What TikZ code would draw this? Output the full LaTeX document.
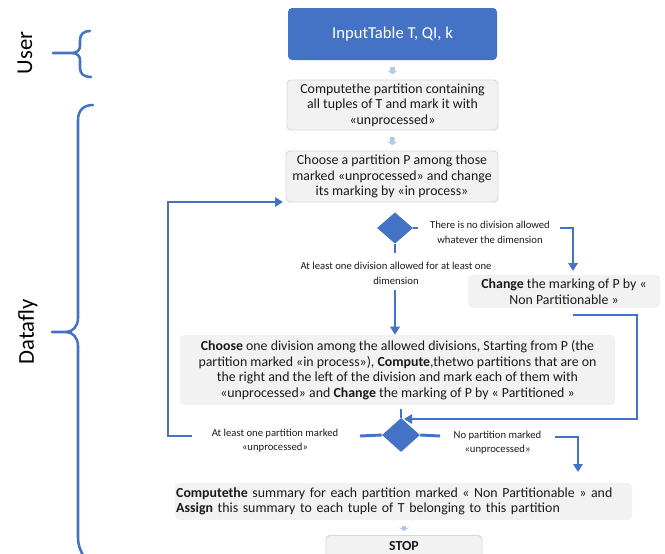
\documentclass[tikz,border=0pt]{standalone}
\usepackage{fontspec}
\setmainfont{Carlito}
\usetikzlibrary{arrows.meta,shapes.geometric}
\definecolor{accent}{HTML}{4472C4}
\definecolor{panel}{HTML}{F2F2F2}
\definecolor{rim}{HTML}{D3D9E3}
\definecolor{pale}{HTML}{B4C7E7}
\definecolor{ink}{HTML}{1A1A1A}

\begin{document}
\begin{tikzpicture}[x=0.75pt,y=-0.75pt,
  box/.style={fill=panel, rounded corners=3pt, inner sep=0pt, text=ink,
    font=\fontsize{10.4}{11.6}\selectfont, align=center},
  framed/.style={box, draw=rim, line width=0.7pt},
  decide/.style={diamond, fill=accent, inner sep=0pt},
  note/.style={font=\fontsize{8}{11}\selectfont, text=ink, align=center, inner sep=0pt},
  wire/.style={draw=accent, line width=2.2pt},
  pointer/.style={wire, -{Triangle[width=7pt,length=6pt]}},
  gapper/.style={draw=pale, line width=3.5pt, -{Triangle[width=7pt,length=2.5pt]}},
  curly/.style={draw=accent, line width=1.9pt, line cap=round},
  side/.style={font=\fontsize{17}{19}\selectfont, rotate=90, text=black}
]
\useasboundingbox (0,0) rectangle (665,554);
\clip (0,0) rectangle (665,554);

% ---- side labels with braces ----
\node[side] (user) at (25,53) {User};
\node[side] (fly) at (28,332) {Datafly};
\draw[curly] (90,31) .. controls (84,31) and (80,34) .. (80,40) -- (80,46)
  .. controls (80,50) and (77,53) .. (72,53) -- (53,53);
\draw[curly] (72,53) .. controls (77,53) and (80,56) .. (80,60) -- (80,68)
  .. controls (80,74) and (84,77) .. (91,77);
\draw[curly] (93,105) .. controls (84,105) and (78,110) .. (78,120) -- (78,318)
  .. controls (78,326) and (73,332) .. (66,332) -- (52,332);
\draw[curly] (66,332) .. controls (73,332) and (78,338) .. (78,346) -- (78,537)
  .. controls (78,545) and (80,551) .. (85,558);

% ---- process boxes ----
\node[box, fill=accent, text=white, minimum width=156.75pt, minimum height=39pt,
  font=\fontsize{12.5}{14}\selectfont] (top) at (392.5,34) {InputTable T, QI, k};
\node[framed, minimum width=158.25pt, minimum height=37.5pt] (init) at (392.5,105)
  {Computethe partition containing\\all tuples of T and mark it with\\«unprocessed»};
\node[framed, minimum width=159pt, minimum height=38.25pt] (pick) at (392,176.5)
  {Choose a partition P among those\\marked «unprocessed» and change\\its marking by «in process»};
\node[decide, minimum width=27pt, minimum height=23.5pt] (d1) at (395,228) {};
\node[box, minimum width=144pt, minimum height=24.75pt] (chg) at (564,291.5)
  {\textbf{Change} the marking of P by «\\Non Partitionable »};
\node[box, minimum width=326.25pt, minimum height=52.5pt] (split) at (397.5,370)
  {\textbf{Choose} one division among the allowed divisions, Starting from P (the\\
   partition marked «in process»), \textbf{Compute},thetwo partitions that are on\\
   the right and the left of the division and mark each of them with\\
   «unprocessed» and \textbf{Change} the marking of P by « Partitioned »};
\node[decide, minimum width=28.5pt, minimum height=25.5pt] (d2) at (401,435) {};
\node[box, minimum width=342.75pt, minimum height=27.75pt, align=left,
  text width=341pt] (sum) at (403.5,501.5)
  {\textbf{Computethe} summary for each partition marked « Non Partitionable » and\\
   \textbf{Assign} this summary to each tuple of T belonging to this partition};
\node[framed, minimum width=117pt, minimum height=18pt, anchor=north] (stop) at (404,535) {};
\node[font=\fontsize{10.4}{11.6}\selectfont\bfseries, text=ink] (stopt) at (404,545.5) {STOP};

% ---- short links between stacked boxes ----
\draw[gapper, shorten <=5pt, shorten >=4pt] (top.south) -- (init.north);
\draw[gapper, shorten <=5pt, shorten >=4pt] (init.south) -- (pick.north);
\draw[gapper, shorten <=4pt, shorten >=3pt] (sum.south -| stop.north) -- (stop.north);

% ---- first decision ----
\node[note] (l1) at (490,232.5) {There is no division allowed\\whatever the dimension};
\node[note] (l2) at (396,273.5) {At least one division allowed for at least one\\dimension};
\coordinate (a1) at (418,228);
\coordinate (a2) at (560,228);
\coordinate (a3) at (573,271);
\draw[wire] (d1.east) -- (a1);
\draw[pointer] (a2) -| (a3);
\coordinate (b1) at (395,253);
\coordinate (b2) at (395,290);
\draw[wire] (d1.south) -- (b1);
\draw[pointer] (b2) -- (split.north -| b2);

% ---- non partitionable back to the second decision ----
\coordinate (c1) at (573,315);
\coordinate (c2) at (637,315);
\coordinate (c3) at (404,419);
\draw[pointer] (c1) -- (c2) |- (c3);
\coordinate (g1) at (401,405);
\draw[wire, shorten <=3pt] (g1) -- (d2.north);

% ---- second decision ----
\node[note] (l3) at (275,440.5) {At least one partition marked\\«unprocessed»};
\node[note] (l4) at (497.5,442.5) {No partition marked\\«unprocessed»};
\coordinate (e1) at (360,436);
\coordinate (e2) at (192,436);
\coordinate (e3) at (168,436);
\coordinate (e4) at (283,202);
\draw[wire] (d2.west) -- (e1);
\draw[pointer] (e2) -- (e3) |- (e4);
\coordinate (f1) at (440,436);
\coordinate (f2) at (555,437);
\coordinate (f3) at (578,472);
\draw[wire] (d2.east) -- (f1);
\draw[pointer] (f2) -| (f3);
\end{tikzpicture}
\end{document}
